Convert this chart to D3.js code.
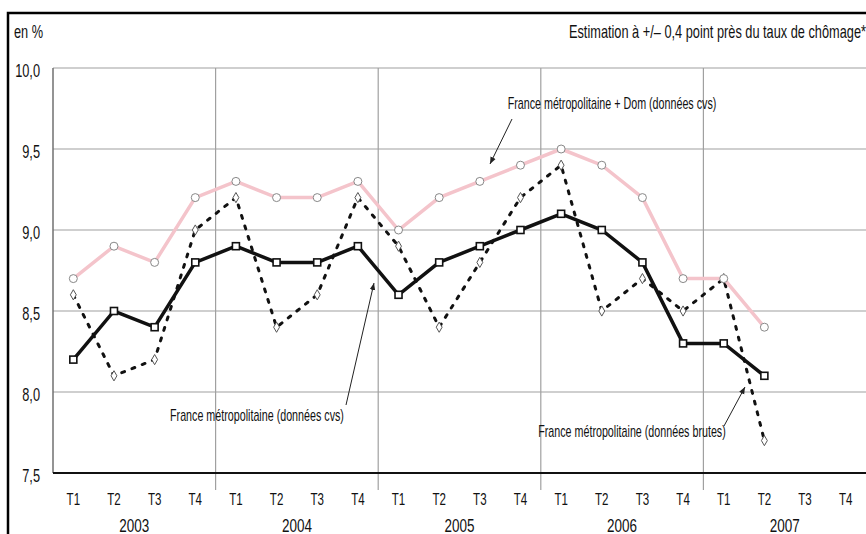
<!DOCTYPE html>
<html>
<head>
<meta charset="utf-8">
<script src="https://cdn.jsdelivr.net/npm/d3@7"></script>
<style>
    body { margin: 0; background: #fff; }
    text { font-family: "Liberation Sans", Arial, sans-serif; fill: #111; }
</style>
</head>
<body>
<script>
(function() {

    var quarters = ["T1", "T2", "T3", "T4"];
    var years = ["2003", "2004", "2005", "2006", "2007"];
    var yTicks = [7.5, 8.0, 8.5, 9.0, 9.5, 10.0];

    // France métropolitaine + Dom (données cvs)
    var metroDom = [8.7, 8.9, 8.8, 9.2, 9.3, 9.2, 9.2, 9.3, 9.0, 9.2, 9.3, 9.4, 9.5, 9.4, 9.2, 8.7, 8.7, 8.4];
    // France métropolitaine (données cvs)
    var metroCvs = [8.2, 8.5, 8.4, 8.8, 8.9, 8.8, 8.8, 8.9, 8.6, 8.8, 8.9, 9.0, 9.1, 9.0, 8.8, 8.3, 8.3, 8.1];
    // France métropolitaine (données brutes)
    var metroBrutes = [8.6, 8.1, 8.2, 9.0, 9.2, 8.4, 8.6, 9.2, 8.9, 8.4, 8.8, 9.2, 9.4, 8.5, 8.7, 8.5, 8.7, 7.7];

    var width = 866,
        height = 534,
        left = 53,
        right = 866,
        top = 68,
        bottom = 473;

    var periods = [];
    years.forEach(function(y){
        quarters.forEach(function(q){
            periods.push(y + "-" + q);
        });
    });

    var xScale = d3.scaleBand()
        .domain(periods)
        .range([left, right])
        .padding(0);

    var yScale = d3.scaleLinear()
        .domain([7.5, 10])
        .range([bottom, top]);

    function xc(i){
        return xScale(periods[i]) + xScale.bandwidth() / 2;
    }

    // squeeze text horizontally (the original uses a narrow face)
    function narrow(sel, k){
        sel.each(function(){
            var t = d3.select(this);
            var x = +t.attr("x") || 0;
            t.attr("x", x / k).attr("transform", "scale(" + k + ",1)");
        });
    }

    var svg = d3.select("body")
        .append("svg")
        .attr("width", width)
        .attr("height", height);

    // frame
    svg.append("rect")
        .attr("x", 8)
        .attr("y", 13)
        .attr("width", 880)
        .attr("height", 540)
        .attr("fill", "none")
        .attr("stroke", "#000")
        .attr("stroke-width", 2.5);

    svg.append("text")
        .attr("x", 14)
        .attr("y", 38)
        .style("font-size", "18px")
        .text("en %")
        .call(narrow, 0.71);

    svg.append("text")
        .attr("x", 866)
        .attr("y", 38)
        .attr("text-anchor", "end")
        .style("font-size", "18px")
        .text("Estimation à +/– 0,4 point près du taux de chômage*")
        .call(narrow, 0.71);

    // horizontal grid
    svg.selectAll(".hgrid")
        .data(yTicks.slice(1))
        .enter()
        .append("line")
        .attr("class", "hgrid")
        .attr("x1", left)
        .attr("x2", right)
        .attr("y1", function(d){ return yScale(d); })
        .attr("y2", function(d){ return yScale(d); })
        .attr("stroke", "#a0a0a0")
        .attr("stroke-width", 1.2);

    // year separators
    svg.selectAll(".vgrid")
        .data(years.slice(1))
        .enter()
        .append("line")
        .attr("class", "vgrid")
        .attr("x1", function(d){ return xScale(d + "-T1"); })
        .attr("x2", function(d){ return xScale(d + "-T1"); })
        .attr("y1", top)
        .attr("y2", 490)
        .attr("stroke", "#a0a0a0")
        .attr("stroke-width", 1.2);

    svg.append("line")
        .attr("x1", left)
        .attr("x2", left)
        .attr("y1", top)
        .attr("y2", bottom)
        .attr("stroke", "#707070")
        .attr("stroke-width", 1.5);

    // y axis labels
    var yAxis = d3.axisLeft(yScale)
        .tickValues(yTicks)
        .tickSize(0)
        .tickPadding(13)
        .tickFormat(function(d){ return d3.format(".1f")(d).replace(".", ","); });

    var yG = svg.append("g")
        .attr("transform", "translate(" + left + ",0)")
        .call(yAxis);
    yG.select(".domain").remove();
    yG.selectAll("text")
        .style("font-size", "18px")
        .style("font-family", null)
        .attr("fill", "#111")
        .attr("dy", "0.45em")
        .call(narrow, 0.71);

    // x axis labels
    var xAxis = d3.axisBottom(xScale)
        .tickSize(0)
        .tickPadding(20)
        .tickFormat(function(d){ return d.split("-")[1]; });

    var xG = svg.append("g")
        .attr("transform", "translate(0," + bottom + ")")
        .call(xAxis);
    xG.select(".domain").remove();
    xG.selectAll("text")
        .style("font-size", "17px")
        .style("font-family", null)
        .attr("fill", "#111")
        .call(narrow, 0.68);

    svg.append("line")
        .attr("x1", left)
        .attr("x2", right)
        .attr("y1", bottom)
        .attr("y2", bottom)
        .attr("stroke", "#111")
        .attr("stroke-width", 2);

    svg.selectAll(".year")
        .data(years)
        .enter()
        .append("text")
        .attr("class", "year")
        .attr("x", function(d){ return xScale(d + "-T1") + xScale.bandwidth() * 2; })
        .attr("y", 532)
        .attr("text-anchor", "middle")
        .style("font-size", "19px")
        .text(function(d){ return d; })
        .call(narrow, 0.71);

    var line = d3.line()
        .x(function(d, i){ return xc(i); })
        .y(function(d){ return yScale(d); });

    // brutes (dotted)
    svg.append("path")
        .datum(metroBrutes)
        .attr("d", line)
        .attr("fill", "none")
        .attr("stroke", "#111")
        .attr("stroke-width", 3)
        .attr("stroke-linecap", "round")
        .attr("stroke-dasharray", "3,8");

    svg.append("path")
        .datum(metroDom)
        .attr("d", line)
        .attr("fill", "none")
        .attr("stroke", "#f4c4cb")
        .attr("stroke-width", 3.5);

    svg.append("path")
        .datum(metroCvs)
        .attr("d", line)
        .attr("fill", "none")
        .attr("stroke", "#111")
        .attr("stroke-width", 3.5);

    var diamond = d3.symbol().type(d3.symbolDiamond).size(30);

    svg.selectAll(".mbrut")
        .data(metroBrutes)
        .enter()
        .append("path")
        .attr("class", "mbrut")
        .attr("d", diamond)
        .attr("transform", function(d, i){ return "translate(" + xc(i) + "," + yScale(d) + ")"; })
        .attr("fill", "#fff")
        .attr("stroke", "#555")
        .attr("stroke-width", 1);

    svg.selectAll(".mdom")
        .data(metroDom)
        .enter()
        .append("circle")
        .attr("class", "mdom")
        .attr("cx", function(d, i){ return xc(i); })
        .attr("cy", function(d){ return yScale(d); })
        .attr("r", 4)
        .attr("fill", "#fff")
        .attr("stroke", "#888")
        .attr("stroke-width", 1);

    svg.selectAll(".mcvs")
        .data(metroCvs)
        .enter()
        .append("rect")
        .attr("class", "mcvs")
        .attr("x", function(d, i){ return xc(i) - 3.5; })
        .attr("y", function(d){ return yScale(d) - 3.5; })
        .attr("width", 7)
        .attr("height", 7)
        .attr("fill", "#fff")
        .attr("stroke", "#111")
        .attr("stroke-width", 1.6);

    // annotations
    svg.append("defs").append("marker")
        .attr("id", "arrow")
        .attr("viewBox", "0 0 10 10")
        .attr("refX", 10)
        .attr("refY", 5)
        .attr("markerWidth", 7)
        .attr("markerHeight", 7)
        .attr("orient", "auto")
        .append("path")
        .attr("d", "M0,1L10,5L0,9Z")
        .attr("fill", "#222");

    var notes = [
        { text: "France métropolitaine + Dom (données cvs)", tx: 612, ty: 109, x1: 512, y1: 119, x2: 490, y2: 164 },
        { text: "France métropolitaine (données cvs)", tx: 257, ty: 421, x1: 346, y1: 405, x2: 374, y2: 283 },
        { text: "France métropolitaine (données brutes)", tx: 632, ty: 437, x1: 724, y1: 426, x2: 745, y2: 387 }
    ];

    notes.forEach(function(n){
        svg.append("text")
            .attr("x", n.tx)
            .attr("y", n.ty)
            .attr("text-anchor", "middle")
            .style("font-size", "16px")
            .text(n.text)
            .call(narrow, 0.67);
        svg.append("line")
            .attr("x1", n.x1)
            .attr("y1", n.y1)
            .attr("x2", n.x2)
            .attr("y2", n.y2)
            .attr("stroke", "#222")
            .attr("stroke-width", 1)
            .attr("marker-end", "url(#arrow)");
    });

})();
</script>
</body>
</html>
